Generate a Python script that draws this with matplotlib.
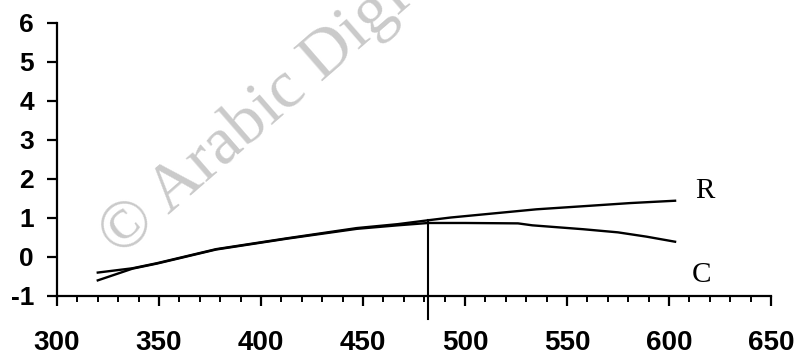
import matplotlib
matplotlib.use("Agg")
import matplotlib.pyplot as plt
from matplotlib.ticker import MultipleLocator

plt.rcParams['axes.unicode_minus'] = False

# curve R
r_x = [320, 337, 349, 378, 413, 447, 467, 482, 493, 511, 535, 561, 581, 603]
r_y = [-0.40, -0.29, -0.16, 0.20, 0.48, 0.74, 0.84, 0.94, 1.01, 1.10, 1.22, 1.31, 1.38, 1.44]

# curve C
c_x = [320, 337, 349, 378, 413, 447, 467, 482, 500, 526, 533, 558, 575, 589, 603]
c_y = [-0.60, -0.30, -0.17, 0.19, 0.47, 0.72, 0.81, 0.87, 0.87, 0.86, 0.81, 0.71, 0.63, 0.52, 0.39]

# vertical marker
mark_x = 482
mark_top = 0.94

x_ticks = [300, 350, 400, 450, 500, 550, 600, 650]
y_ticks = [-1, 0, 1, 2, 3, 4, 5, 6]

fig = plt.figure(figsize=(7.98, 3.59), dpi=100)
ax = fig.add_axes([0.0714, 0.1755, 0.8947, 0.7613])
ax.set_facecolor('none')

# watermark
ax.text(0.136, 0.318, "\u00a9 Arabic Digital Library", transform=fig.transFigure,
        rotation=41, rotation_mode='anchor', ha='left', va='center',
        fontsize=49, family='Liberation Serif', color='#cacaca', zorder=0)

ax.plot(r_x, r_y, color='black', lw=1.7, zorder=3)
ax.plot(c_x, c_y, color='black', lw=1.7, zorder=3)
ax.plot([mark_x, mark_x], [-1.59, mark_top], color='black', lw=1.5,
        clip_on=False, zorder=3)

ax.text(617.5, 1.69, "R", family='Liberation Serif', fontsize=21,
        ha='center', va='center')
ax.text(616, -0.46, "C", family='Liberation Serif', fontsize=21,
        ha='center', va='center')

ax.set_xlim(300, 650)
ax.set_ylim(-1, 6)
ax.set_xticks(x_ticks)
ax.set_yticks(y_ticks)
ax.xaxis.set_minor_locator(MultipleLocator(10))

for s in ['top', 'right']:
    ax.spines[s].set_visible(False)
for s in ['left', 'bottom']:
    ax.spines[s].set_linewidth(1.6)

ax.tick_params(axis='x', which='major', direction='out', length=7.5, width=1.6,
               pad=17, labelsize=20)
ax.tick_params(axis='x', which='minor', direction='out', length=4.5, width=1.4)
ax.tick_params(axis='y', which='major', direction='out', length=7.5, width=1.6,
               pad=9, labelsize=19)
for lab in ax.get_xticklabels() + ax.get_yticklabels():
    lab.set_family('Liberation Sans')
    lab.set_fontweight('bold')

fig.savefig("out.png", dpi=100)
